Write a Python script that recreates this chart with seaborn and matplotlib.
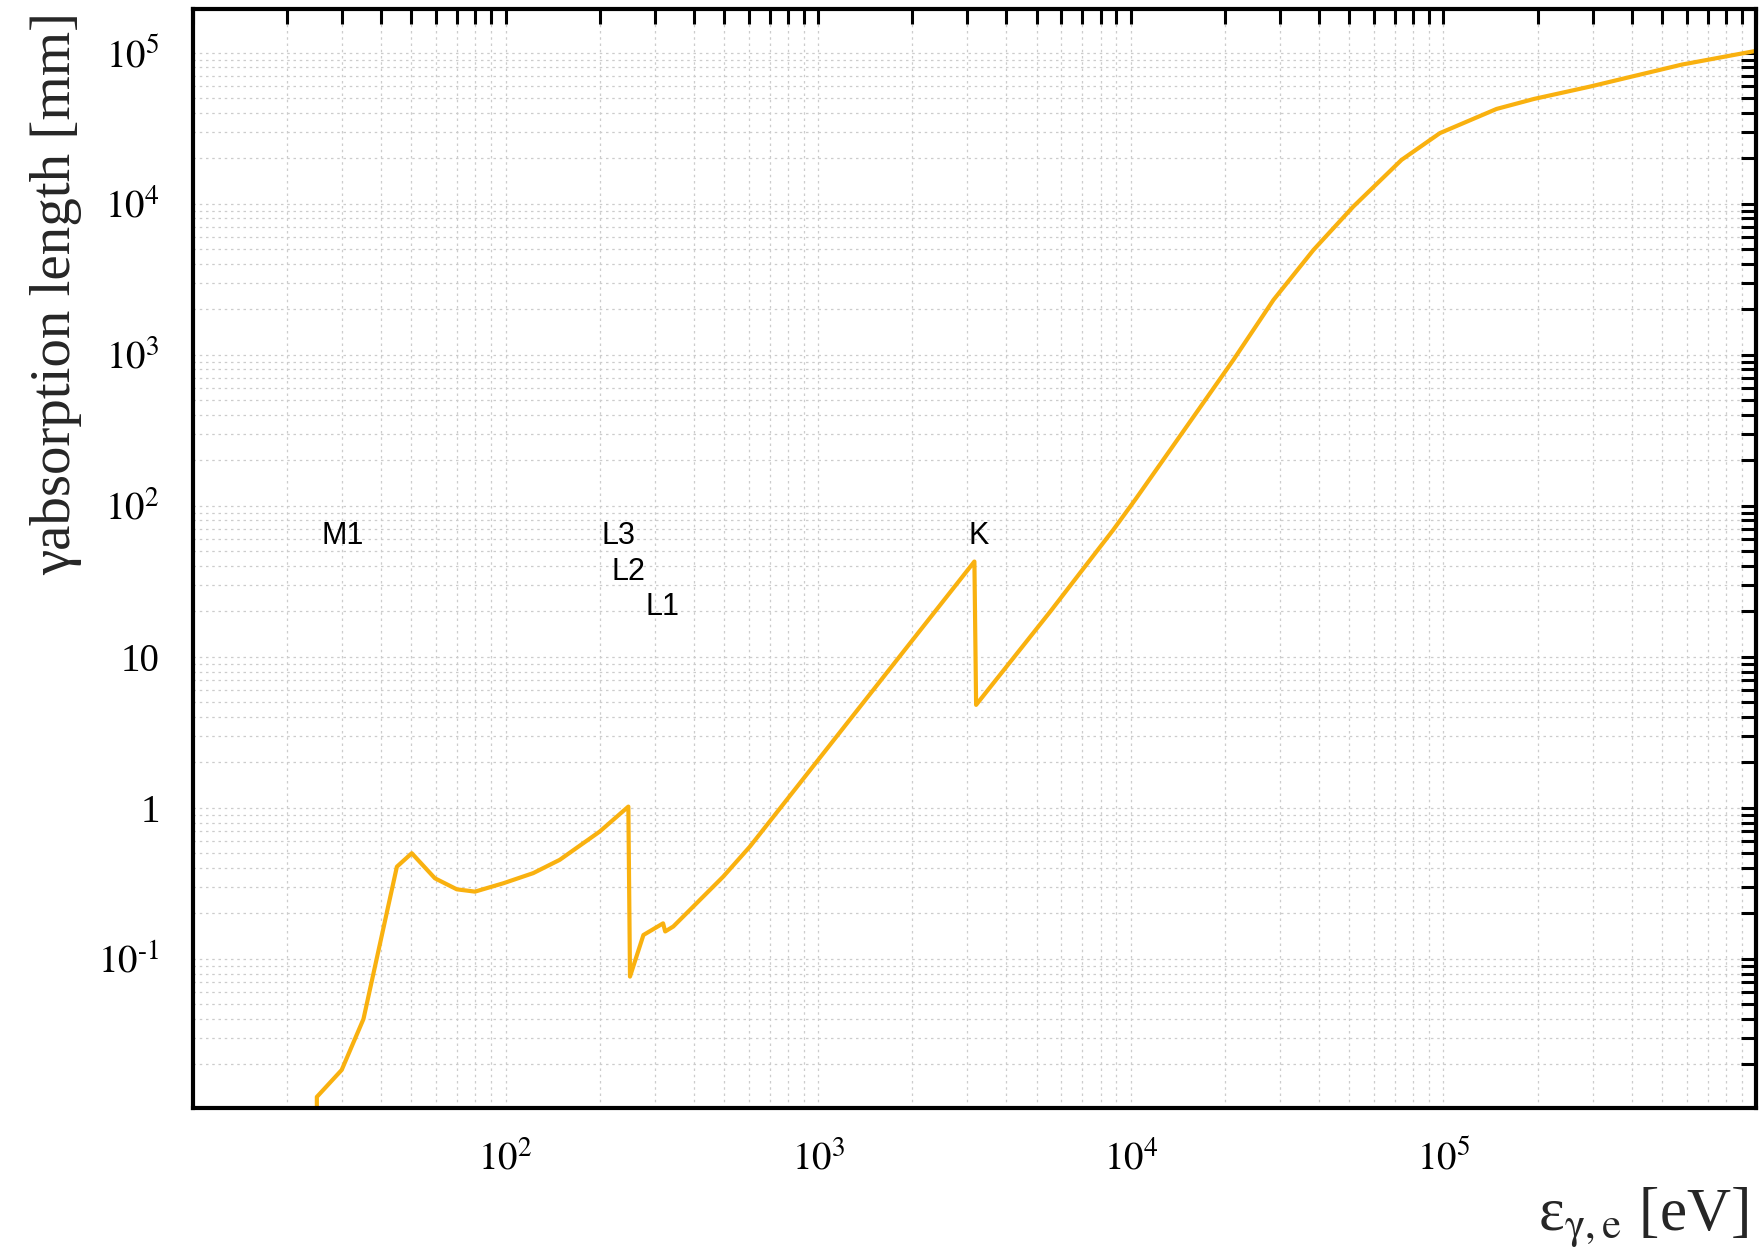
import numpy as np
import pandas as pd
import matplotlib
matplotlib.use("Agg")
import matplotlib.pyplot as plt
import matplotlib.ticker as mticker
import seaborn as sns

# ---- data (photon energy in eV, absorption length in mm)
energy_ev = [24.9, 24.9, 29.9, 35.1, 44.9, 50.1, 59.4, 69.8, 79.8, 98.4, 122.6, 149, 200,
             247, 250, 276, 319, 324, 344, 497, 605, 1500, 3160, 3200, 5520, 8790,
             10400, 16600, 21300, 28600, 38400, 51500, 73500, 97500, 148000, 195000, 293000,
             580000, 1000000]
abs_length_mm = [0.0100, 0.0122, 0.0184, 0.0400, 0.408, 0.501, 0.342, 0.289, 0.279, 0.317,
                 0.370, 0.453, 0.697, 1.02, 0.0764, 0.144, 0.172, 0.152, 0.164, 0.351,
                 0.555, 6.04, 42.8, 4.81, 19.9, 69.4, 112, 444, 927, 2310, 4950, 9590, 19550,
                 29400, 42500, 49500, 59600, 83600, 103000]

edge_labels = ["M1", "L3", "L2", "L1", "K"]
edge_label_x = [30.1, 229.6, 246.6, 316.5, 3250]
edge_label_y = [63.2, 63.2, 36.6, 21.3, 63.2]

x_major = [10, 1e2, 1e3, 1e4, 1e5, 1e6]
x_major_labels = ["", r"$10^{2}$", r"$10^{3}$", r"$10^{4}$", r"$10^{5}$", ""]
y_major = [1e-2, 1e-1, 1, 10, 1e2, 1e3, 1e4, 1e5]
y_major_labels = ["", r"$10^{\text{-}1}$", "1", "10", r"$10^{2}$", r"$10^{3}$", r"$10^{4}$", r"$10^{5}$"]

df = pd.DataFrame({"energy": energy_ev, "length": abs_length_mm})

sns.set_theme(style="white")
plt.rcParams["font.family"] = ["Liberation Serif", "DejaVu Serif"]
plt.rcParams["mathtext.fontset"] = "stix"

fig = plt.figure(figsize=(17.62, 12.5), dpi=100)
ax = fig.add_axes([193 / 1762, 1 - 1108 / 1250, (1756 - 193) / 1762, (1108 - 9) / 1250])

sns.lineplot(data=df, x="energy", y="length", ax=ax, sort=False, estimator=None,
             color="#F9B10F", linewidth=3.0)

ax.set_xscale("log")
ax.set_yscale("log")
ax.set_xlim(10, 1e6)
ax.set_ylim(0.0103, 1.95e5)

ax.xaxis.set_major_locator(mticker.FixedLocator(x_major))
ax.xaxis.set_major_formatter(mticker.FixedFormatter(x_major_labels))
ax.yaxis.set_major_locator(mticker.FixedLocator(y_major))
ax.yaxis.set_major_formatter(mticker.FixedFormatter(y_major_labels))
ax.xaxis.set_minor_locator(mticker.LogLocator(base=10, subs=np.arange(2, 10), numticks=60))
ax.yaxis.set_minor_locator(mticker.LogLocator(base=10, subs=np.arange(2, 10), numticks=60))
ax.xaxis.set_minor_formatter(mticker.NullFormatter())
ax.yaxis.set_minor_formatter(mticker.NullFormatter())

ax.grid(True, which="both", color="0.8", linestyle=(0, (2, 3)), linewidth=0.9)
for s in ax.spines.values():
    s.set_visible(True)
    s.set_color("black")
    s.set_linewidth(3.0)

ax.tick_params(which="both", direction="in", top=True, right=True, length=11,
               width=2.2, color="black", labelcolor="black", labelsize=28)
ax.tick_params(axis="y", pad=24)
ax.tick_params(axis="x", pad=24)

ax.set_ylabel("γabsorption length [mm]", fontsize=41, loc="top")
ax.yaxis.set_label_coords(-0.071, 0.997)
ax.set_xlabel(r"ε$_{\mathrm{γ,e}}$ [eV]", fontsize=44, loc="right")
ax.xaxis.set_label_coords(0.995, -0.07)

for lab, lx, ly in zip(edge_labels, edge_label_x, edge_label_y):
    ax.text(lx, ly, lab, fontsize=22, family=["Liberation Sans", "DejaVu Sans"],
            ha="center", va="center", color="black")

fig.savefig("out.png", dpi=100, facecolor="white")
